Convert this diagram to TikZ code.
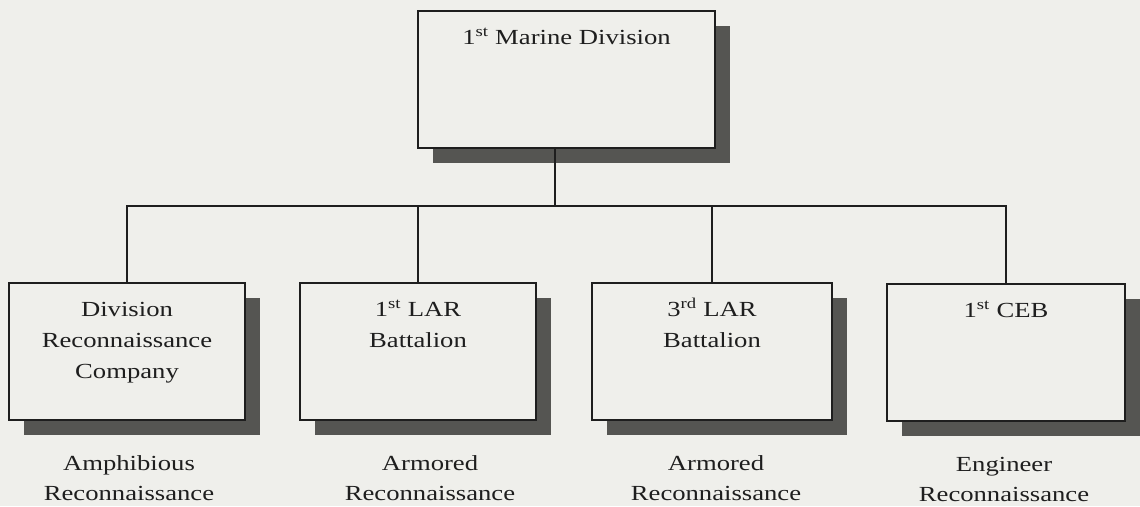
\documentclass[tikz,border=0pt]{standalone}
\usepackage{fontspec}
\setmainfont{Liberation Serif}[FakeStretch=1.24]
\usetikzlibrary{shadows}
\definecolor{bgcol}{RGB}{239,239,235}
\definecolor{inkcol}{RGB}{30,30,30}
\definecolor{shadowcol}{RGB}{85,85,82}
\newcommand{\boxtext}[3]{\parbox[c][#1pt][t]{#2pt}{\centering\fontsize{21.5}{31}\selectfont\rule{0pt}{33pt}#3}}
\tikzset{
  orgbox/.style={draw=inkcol, line width=1.6pt, fill=bgcol, inner sep=0pt, rectangle,
    drop shadow={shadow xshift=15pt, shadow yshift=-15pt, fill=shadowcol, opacity=1}},
  conn/.style={draw=inkcol, line width=1.6pt},
  rolelabel/.style={anchor=north, align=center, inner sep=0pt, text=inkcol,
    font=\fontsize{21.5}{30}\selectfont}
}
\begin{document}
\begin{tikzpicture}[x=1pt,y=-1pt]
\fill[bgcol] (0,0) rectangle (1140,506);
\useasboundingbox (0,0) rectangle (1140,506);
\node[orgbox, text=inkcol] (top) at (566.5,79.5) {\boxtext{137}{297}{1\textsuperscript{st} Marine Division}};
\node[orgbox, text=inkcol] (d1) at (127,351.5) {\boxtext{137}{236}{Division\\Reconnaissance\\Company}};
\node[orgbox, text=inkcol] (d2) at (418,351.5) {\boxtext{137}{236}{1\textsuperscript{st} LAR\\Battalion}};
\node[orgbox, text=inkcol] (d3) at (712,351.5) {\boxtext{137}{240}{3\textsuperscript{rd} LAR\\Battalion}};
\node[orgbox, text=inkcol] (d4) at (1006,352.5) {\boxtext{137}{238}{1\textsuperscript{st} CEB}};
\coordinate (bus) at (555,206);
\draw[conn] (top.south -| bus) -- (bus);
\draw[conn] (d1.north) -- (d1.north |- bus) -- (d4.north |- bus) -- (d4.north);
\draw[conn] (d2.north) -- (d2.north |- bus);
\draw[conn] (d3.north) -- (d3.north |- bus);
\node[rolelabel] (l1) at ([xshift=2pt,yshift=-35pt]d1.south) {Amphibious\\Reconnaissance};
\node[rolelabel] (l2) at ([xshift=12pt,yshift=-35pt]d2.south) {Armored\\Reconnaissance};
\node[rolelabel] (l3) at ([xshift=4pt,yshift=-35pt]d3.south) {Armored\\Reconnaissance};
\node[rolelabel] (l4) at ([xshift=-2pt,yshift=-35pt]d4.south) {Engineer\\Reconnaissance};
\end{tikzpicture}
\end{document}
